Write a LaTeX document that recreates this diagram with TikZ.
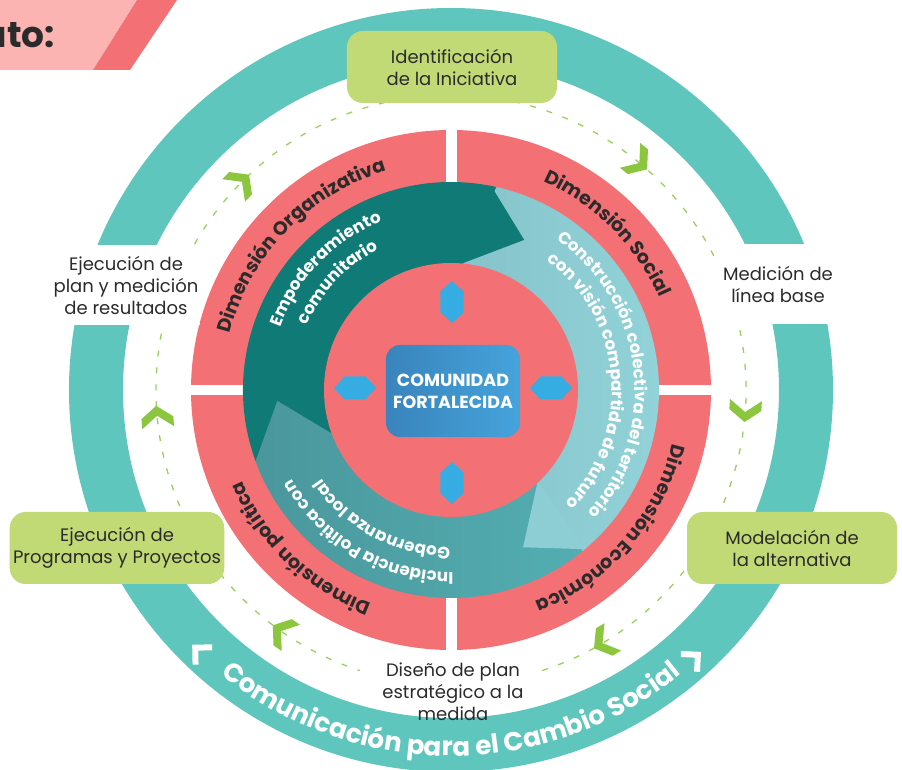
\documentclass[tikz,border=0pt]{standalone}
\usepackage{fontspec}
\setmainfont{Poppins}
\usetikzlibrary{decorations.text}

\definecolor{anillo}{HTML}{5EC6BC}
\definecolor{rosa}{HTML}{F37174}
\definecolor{rosaclaro}{HTML}{FBB4B2}
\definecolor{verdecaja}{HTML}{C2DA76}
\definecolor{verdeflecha}{HTML}{8CC63F}
\definecolor{tealoscuro}{HTML}{107B76}
\definecolor{tealmedioa}{HTML}{4A979C}
\definecolor{tealmediob}{HTML}{53AEB1}
\definecolor{tealclaroa}{HTML}{86C3CA}
\definecolor{tealclarob}{HTML}{92D5DA}
\definecolor{azulflecha}{HTML}{35ADE2}
\definecolor{azulcajaa}{HTML}{3A84BC}
\definecolor{azulcajab}{HTML}{45A3DB}
\definecolor{texto}{HTML}{2B2B2B}

\newcommand\dimfont{\bfseries\fontsize{19}{19}\selectfont}
\newcommand\bandfont{\bfseries\fontsize{16.8}{16.8}\selectfont}
\newcommand\ringfont{\bfseries\fontsize{26.2}{26.2}\selectfont}

\tikzset{
  etapa/.style={fill=verdecaja, rounded corners=16pt, minimum width=210pt, minimum height=72pt,
    align=center, text=texto, font=\fontsize{18}{22}\selectfont},
  paso/.style={fill=white, align=center, text=texto, font=\fontsize{18}{22}\selectfont,
    minimum height=80pt, inner xsep=2pt},
  guia/.style={verdeflecha!85, line width=1.3pt, dash pattern=on 6pt off 11pt},
  avance/.style={fill=verdeflecha},
  cierre/.style={white, line width=6pt},
  hexa/.style={fill=azulflecha},
}

\begin{document}
\begin{tikzpicture}[x=1pt, y=1pt]
\useasboundingbox (-451,-380) rectangle (451,390);
\fill[white] (-451,-380) rectangle (451,390);

\fill[rosaclaro] (-451,390) -- (-314,390) -- (-358,320) -- (-451,320) -- cycle;
\fill[rosa] (-314,390) -- (-274,390) -- (-321,320) -- (-358,320) -- cycle;
\node[anchor=base east, text=texto, font=\bfseries\fontsize{36}{36}\selectfont, inner sep=0pt] (titulo) at (-396,342) {ato:};

\fill[anillo, even odd rule] (0,0) circle[radius=382] (0,0) circle[radius=328];

\draw[guia] (-72:295) arc[start angle=-72, end angle=252, radius=295];
\foreach \a in {135.5,50.7,-3.9,-58.7,-124.8,185.4}
  \fill[avance, shift={(\a:295)}, rotate=\a-90] (-10,16) -- (2,0) -- (-10,-16) -- (0,-16) -- (12,0) -- (0,16) -- cycle;

\fill[rosa] (0,0) circle[radius=260];
\fill[white] (-5,-262) rectangle (6,262);
\fill[white] (-262,-5) rectangle (262,5);

\fill[tealoscuro] (200:208) arc[start angle=200, end angle=77.4, radius=208] -- (64:167) -- (84.5:127)
  -- (84.5:120) arc[start angle=84.5, end angle=200, radius=120] -- cycle;
\shade[left color=tealclaroa, right color=tealclarob] (77.4:208) -- (84.5:127) -- (84.5:120)
  arc[start angle=84.5, end angle=-47.5, radius=120] -- (-47.5:127) -- (-65.4:173) -- (-50.8:208)
  arc[start angle=-50.8, end angle=77.4, radius=208] -- cycle;
\shade[left color=tealmedioa, right color=tealmediob] (-50.8:208) -- (-47.5:127) -- (-47.5:120)
  arc[start angle=-47.5, end angle=-160, radius=120] -- (-160:127) -- (-176.4:174) -- (-160:208)
  arc[start angle=-160, end angle=-50.8, radius=208] -- cycle;
\fill[tealoscuro] (79:208.5) -- (64:167) -- (86:126) -- cycle;
\fill[tealclaroa!40!tealclarob] (-46.5:126) -- (-65.4:173) -- (-49.8:208.5) -- cycle;

\fill[rosa] (0,0) circle[radius=127];

\node[shade, left color=azulcajaa, right color=azulcajab, rounded corners=14pt, minimum width=134pt,
  minimum height=92pt, align=center, text=white, font=\bfseries\fontsize{17.5}{22}\selectfont] (centro) at (2,-1) {COMUNIDAD\\FORTALECIDA};
\foreach \x/\y/\r in {1/88/90, 1/-93/90, -96/2/0, 100/2/0}
  \fill[hexa, shift={(\x,\y)}, rotate=\r] (21,0) -- (10.5,11.5) -- (-10.5,11.5) -- (-21,0) -- (-10.5,-11.5) -- (10.5,-11.5) -- cycle;

\path[decorate, decoration={text along path, text align=center, text color=texto,
  text={|\dimfont|Dimensión Organizativa}}] (216:228) arc[start angle=216, end angle=56, radius=228];
\path[decorate, decoration={text along path, text align=center, text color=texto,
  text={|\dimfont|Dimensión Social}}] (125:228) arc[start angle=125, end angle=-35, radius=228];
\path[decorate, decoration={text along path, text align=center, text color=texto,
  text={|\dimfont|Dimensión Económica}}] (39:228) arc[start angle=39, end angle=-121, radius=228];
\path[decorate, decoration={text along path, text align=center, text color=texto,
  text={|\dimfont|Dimensión política}}] (-53.5:228) arc[start angle=-53.5, end angle=-213.5, radius=228];

\path[decorate, decoration={text along path, text align=center, text color=white,
  text={|\bandfont|Empoderamiento}}] (216:182) arc[start angle=216, end angle=56, radius=182];
\path[decorate, decoration={text along path, text align=center, text color=white,
  text={|\bandfont|comunitario}}] (216.5:158) arc[start angle=216.5, end angle=56.5, radius=158];
\path[decorate, decoration={text along path, text align=center, text color=white,
  text={|\bandfont|Construcción colectiva del territorio}}] (96.6:184) arc[start angle=96.6, end angle=-83.4, radius=184];
\path[decorate, decoration={text along path, text align=center, text color=white,
  text={|\bandfont|con visión compartida de futuro}}] (94.4:161) arc[start angle=94.4, end angle=-85.6, radius=161];
\path[decorate, decoration={text along path, text align=center, text color=white,
  text={|\bandfont|Incidencia Política con}}] (-40:182) arc[start angle=-40, end angle=-200, radius=182];
\path[decorate, decoration={text along path, text align=center, text color=white,
  text={|\bandfont|Gobernanza local}}] (-38:157) arc[start angle=-38, end angle=-198, radius=157];

\path[decorate, decoration={text along path, text align=center, text color=white,
  text={|\ringfont|Comunicación para el Cambio Social}}] (-180:366) arc[start angle=-180, end angle=0, radius=366];
\draw[cierre, shift={(-134:363)}, rotate=-224] (-7,12) -- (5,0) -- (-7,-12);
\draw[cierre, shift={(-47.8:362)}, rotate=42.2] (-7,12) -- (5,0) -- (-7,-12);

\node[etapa] (ident) at (1,323) {Identificación\\de la Iniciativa};
\node[paso, minimum width=126pt] (medic) at (327,106) {Medición de\\línea base};
\node[etapa] (model) at (341,-158) {Modelación de\\la alternativa};
\node[align=center, text=texto, font=\fontsize{18}{22}\selectfont] (disen) at (2,-302) {Diseño de plan\\estratégico a la\\medida};
\node[etapa] (ejprog) at (-334,-158) {Ejecución de\\Programas y Proyectos};
\node[paso] (ejplan) at (-325,105) {Ejecución de\\plan y medición\\de resultados};
\end{tikzpicture}
\end{document}
